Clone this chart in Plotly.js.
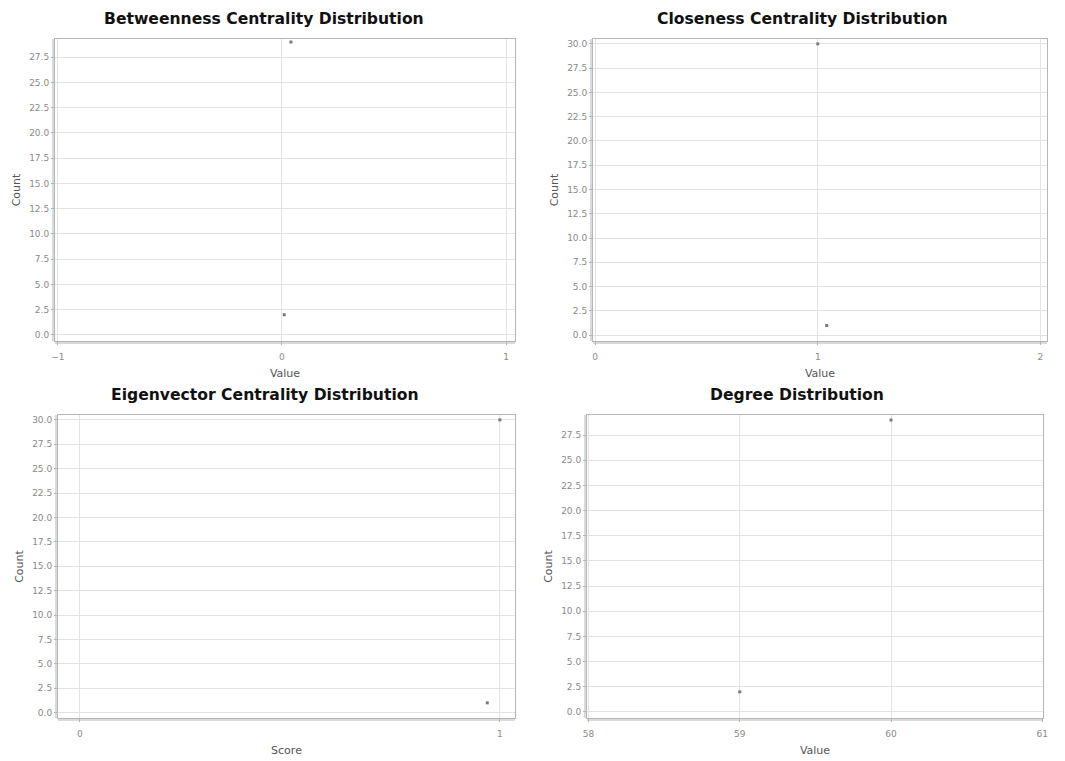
<!DOCTYPE html>
<html>
<head>
<meta charset="utf-8">
<script src="https://cdn.plot.ly/plotly-3.0.1.min.js"></script>
<style>
html,body{margin:0;padding:0;background:#fff;}
#chart{width:1065px;height:761px;}
</style>
</head>
<body>
<div id="chart"></div>
<script>
// Data
const betweennessValues = [0.01, 0.04];
const betweennessCounts = [2, 29];
const closenessValues = [1.0, 1.04];
const closenessCounts = [30, 1];
const eigenvectorScores = [0.97, 1.0];
const eigenvectorCounts = [1, 30];
const degreeValues = [59, 60];
const degreeCounts = [2, 29];

const panelTitles = ["Betweenness Centrality Distribution", "Closeness Centrality Distribution",
                     "Eigenvector Centrality Distribution", "Degree Distribution"];
const xTitles = ["Value", "Value", "Score", "Value"];
const yTitle = "Count";

const W = 1065, H = 761;
const marker = {symbol: "square", size: 3, color: "#7a7a7a"};

const traces = [
  {x: betweennessValues, y: betweennessCounts, xaxis: "x", yaxis: "y"},
  {x: closenessValues, y: closenessCounts, xaxis: "x2", yaxis: "y2"},
  {x: eigenvectorScores, y: eigenvectorCounts, xaxis: "x3", yaxis: "y3"},
  {x: degreeValues, y: degreeCounts, xaxis: "x4", yaxis: "y4"}
].map(t => Object.assign(t, {type: "scatter", mode: "markers", marker: marker, hoverinfo: "x+y", showlegend: false}));

// pixel boxes [left, right, top, bottom]
const boxes = [[55, 515, 39, 341], [593, 1047, 39, 341], [58, 515, 415, 718], [587, 1043, 415, 718]];
const titleCenters = [264, 802, 265, 797];
const xRanges = [[-1.013, 1.04], [-0.01, 2.03], [-0.052, 1.036], [57.99, 61.005]];
const yRanges = [[-0.6, 29.3], [-0.6, 30.5], [-0.55, 30.5], [-0.6, 29.5]];

const tickFont = {family: "DejaVu Sans", size: 9, color: "#8a8a8a"};
const axTitleFont = {family: "DejaVu Sans", size: 11, color: "#555"};

const layout = {
  width: W, height: H,
  margin: {l: 0, r: 0, t: 0, b: 0},
  paper_bgcolor: "#fff", plot_bgcolor: "#fff",
  showlegend: false,
  annotations: [], shapes: []
};

boxes.forEach((b, i) => {
  const s = i === 0 ? "" : String(i + 1);
  layout["xaxis" + s] = {
    domain: [b[0] / W, b[1] / W],
    anchor: "y" + s,
    range: xRanges[i],
    dtick: 1, tick0: 0, tickformat: "d",
    showgrid: true, gridcolor: "#e3e3e3", gridwidth: 1,
    zeroline: false,
    showline: true, linecolor: "#b5b5b5", linewidth: 1, mirror: true,
    ticks: "outside", ticklen: 3, tickcolor: "#b5b5b5",
    ticklabelstandoff: 4,
    tickfont: tickFont,
    title: {text: xTitles[i], font: axTitleFont, standoff: 8}
  };
  layout["yaxis" + s] = {
    domain: [1 - b[3] / H, 1 - b[2] / H],
    anchor: "x" + s,
    range: yRanges[i],
    dtick: 2.5, tick0: 0, tickformat: ".1f",
    showgrid: true, gridcolor: "#e3e3e3", gridwidth: 1,
    zeroline: false,
    showline: true, linecolor: "#b5b5b5", linewidth: 1, mirror: true,
    ticks: "outside", ticklen: 3, tickcolor: "#b5b5b5",
    tickfont: tickFont,
    title: {text: yTitle, font: axTitleFont, standoff: 6}
  };
  // panel title
  layout.annotations.push({
    text: "<b>" + panelTitles[i] + "</b>",
    xref: "paper", yref: "paper",
    x: titleCenters[i] / W, y: 1 - (b[2] - 20) / H,
    xanchor: "center", yanchor: "middle", showarrow: false,
    font: {family: "DejaVu Sans", size: 15.6, color: "#111"}
  });
  // offset axis lines (JFreeChart style)
  layout.shapes.push({type: "line", xref: "paper", yref: "paper",
    x0: b[0] / W, x1: b[1] / W, y0: 1 - (b[3] + 2) / H, y1: 1 - (b[3] + 2) / H,
    line: {color: "#b5b5b5", width: 1}});
  layout.shapes.push({type: "line", xref: "paper", yref: "paper",
    x0: (b[0] - 2) / W, x1: (b[0] - 2) / W, y0: 1 - b[3] / H, y1: 1 - b[2] / H,
    line: {color: "#b5b5b5", width: 1}});
});

Plotly.newPlot("chart", traces, layout, {displayModeBar: false, staticPlot: true});
</script>
</body>
</html>
